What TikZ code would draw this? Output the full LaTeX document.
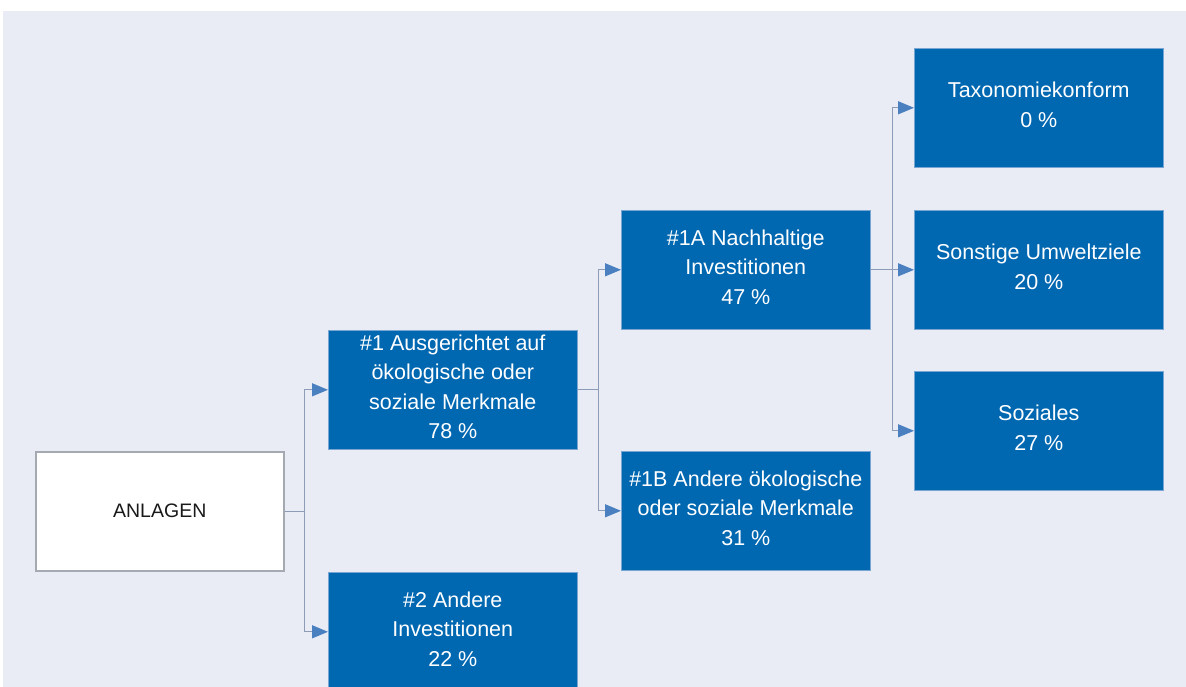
\documentclass[tikz,border=0pt]{standalone}
\usepackage{fontspec}
\setmainfont{Liberation Sans}
\usetikzlibrary{arrows.meta}
\definecolor{bgc}{RGB}{233,236,245}
\definecolor{boxblue}{RGB}{0,103,177}
\definecolor{boxedge}{RGB}{120,165,210}
\definecolor{linec}{RGB}{140,155,182}
\definecolor{tipc}{RGB}{74,127,192}
\definecolor{grayedge}{RGB}{165,169,177}
\begin{document}
\begin{tikzpicture}[x=1pt,y=-1pt,
  bluebox/.style={fill=boxblue, draw=boxedge, line width=0.6pt, minimum width=249pt, minimum height=119pt,
    text=white, align=center, font=\fontsize{21.5}{29.5}\selectfont, inner sep=0pt, text depth=6pt, anchor=north west},
  whitebox/.style={fill=white, draw=grayedge, line width=1.5pt, minimum width=248pt, minimum height=119pt,
    text=black!90, align=center, font=\fontsize{19.5}{28}\selectfont, inner sep=0pt, anchor=north west},
  conn/.style={draw=linec, line width=1.2pt, -{Triangle[length=16pt,width=13pt,fill=tipc,color=tipc]}}
]
\useasboundingbox (0,0) rectangle (1186,687);
\fill[white] (0,0) rectangle (1186,687);
\fill[bgc] (3,11) rectangle (1186,687);

\node[bluebox] (tax) at (914,48) {Taxonomiekonform\\0 \%};
\node[bluebox] (son) at (914,210) {Sonstige Umweltziele\\20 \%};
\node[bluebox] (soz) at (914,371) {Soziales\\27 \%};
\node[bluebox] (n1a) at (621,210) {\#1A Nachhaltige\\Investitionen\\47 \%};
\node[bluebox] (n1b) at (621,451) {\#1B Andere ökologische\\oder soziale Merkmale\\31 \%};
\node[bluebox] (n1) at (328,330) {\#1 Ausgerichtet auf\\ökologische oder\\soziale Merkmale\\78 \%};
\node[bluebox] (n2) at (328,572) {\#2 Andere\\Investitionen\\22 \%};
\node[whitebox] (anl) at (35,451) {ANLAGEN};

\draw[conn] (anl.east) -- ++(20,0) |- (n1.west);
\draw[conn] (anl.east) -- ++(20,0) |- (n2.west);
\draw[conn] (n1.east) -- ++(21,0) |- (n1a.west);
\draw[conn] (n1.east) -- ++(21,0) |- (n1b.west);
\draw[conn] (n1a.east) -- ++(22,0) |- (tax.west);
\draw[conn] (n1a.east) -- (son.west);
\draw[conn] (n1a.east) -- ++(22,0) |- (soz.west);
\end{tikzpicture}
\end{document}
